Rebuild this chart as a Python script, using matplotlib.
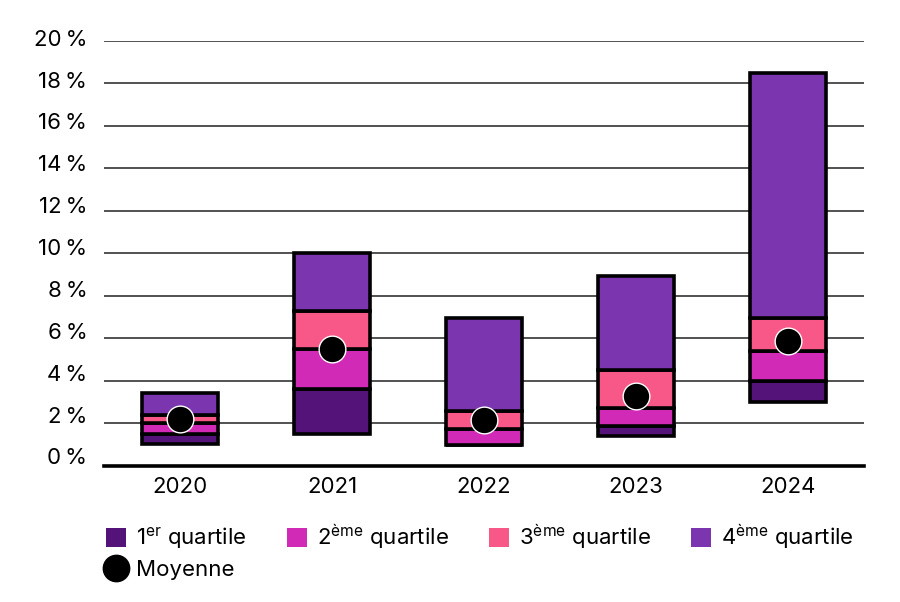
import numpy as np
import matplotlib
matplotlib.use('Agg')
import matplotlib.pyplot as plt
from matplotlib.patches import Patch
from matplotlib.lines import Line2D
from matplotlib.transforms import ScaledTranslation

plt.rcParams['font.family'] = ['Inter', 'DejaVu Sans']
plt.rcParams['mathtext.fontset'] = 'custom'
plt.rcParams['mathtext.rm'] = 'Inter'

annees = ['2020', '2021', '2022', '2023', '2024']
minimum = [1.05, 1.5, 1.0, 1.4, 3.0]
q1 = [1.5, 3.6, 1.0, 1.9, 4.0]
q2 = [2.0, 5.5, 1.75, 2.75, 5.4]
q3 = [2.4, 7.3, 2.6, 4.5, 6.95]
maximum = [3.45, 10.0, 6.95, 8.95, 18.5]
moyenne = [2.2, 5.5, 2.15, 3.3, 5.9]

couleurs = ['#541379', '#d02ab6', '#f85887', '#7b36af']
noms = ['1$^{\\mathregular{er}}$ quartile', '2$^{\\mathregular{ème}}$ quartile',
        '3$^{\\mathregular{ème}}$ quartile', '4$^{\\mathregular{ème}}$ quartile']

fig = plt.figure(figsize=(9, 6.02), dpi=100)
ax = fig.add_axes([0.1156, 0.2259, 0.8444, 0.7065])

x = np.arange(len(annees))
bornes = [minimum, q1, q2, q3, maximum]
for i in range(4):
    bas = np.array(bornes[i])
    haut = np.array(bornes[i + 1])
    ax.bar(x, haut - bas, bottom=bas, width=0.5, color=couleurs[i],
           edgecolor='black', linewidth=2.6, zorder=3)

ax.scatter(x, moyenne, s=370, color='black', edgecolor='white', linewidth=1, zorder=5)

ax.set_xlim(-0.5, 4.5)
ax.set_ylim(0, 20)
yt = np.arange(0, 21, 2)
ax.set_yticks(yt)
ax.set_yticklabels([f'{v}\u2009%' for v in yt])
ax.set_xticks(x)
ax.set_xticklabels(annees)
ax.tick_params(axis='both', length=0, labelsize=16)
ax.tick_params(axis='y', pad=12)
ax.tick_params(axis='x', pad=8)
for v, lab in zip(yt, ax.get_yticklabels()):
    dy = 3 + 0.33 * (20 - v)
    lab.set_transform(lab.get_transform() + ScaledTranslation(0, dy / 100, fig.dpi_scale_trans))

ax.grid(axis='y', color='#222222', linewidth=1.1, zorder=0)
for s in ['left', 'right', 'top']:
    ax.spines[s].set_visible(False)
ax.spines['bottom'].set_linewidth(2.6)
ax.spines['bottom'].set_zorder(4)

poignees = [Patch(facecolor=c, edgecolor='none') for c in couleurs]
moy = Line2D([], [], linestyle='none', marker='o', markersize=19, color='black')
handles = [poignees[0], moy, poignees[1], poignees[2], poignees[3]]
labels = [noms[0], 'Moyenne', noms[1], noms[2], noms[3]]
fig.legend(handles, labels, loc='upper left', bbox_to_anchor=(0.118, 0.132),
           ncol=4, frameon=False, fontsize=16, handlelength=0.9, handleheight=0.9,
           handletextpad=0.45, columnspacing=1.8, labelspacing=0.35,
           borderpad=0, borderaxespad=0)

fig.savefig('out.png', dpi=100)
